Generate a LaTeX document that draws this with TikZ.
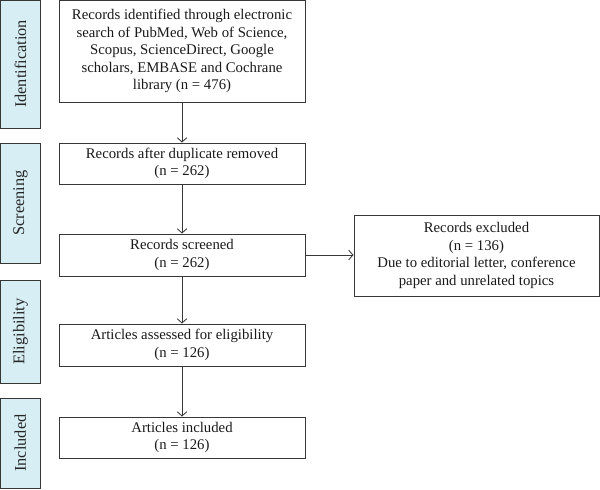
\documentclass[tikz,border=0pt]{standalone}
\usepackage{fontspec}
\setmainfont{Liberation Serif}
\usepackage{tikz}
\usetikzlibrary{arrows.meta}

\definecolor{stagefill}{RGB}{214,238,244}
\definecolor{boxline}{RGB}{55,55,55}

\tikzset{
  stage/.style={draw=boxline,fill=stagefill,line width=0.9pt,inner sep=0pt},
  stagetext/.style={rotate=90,font=\fontsize{15.5}{18}\selectfont,text=black!85},
  record/.style={draw=boxline,line width=0.9pt,align=center,inner sep=0pt,
    font=\fontsize{14}{16.6}\selectfont,text=black!90},
  flow/.style={draw=boxline,line width=0.8pt,-{Straight Barb[length=4pt,width=9pt]}}
}

\begin{document}
\begin{tikzpicture}
\useasboundingbox (0,0) rectangle (20,-16.3);
% stages on the left
\draw[stage] (0.03,0) rectangle (1.333,-4.267);
\draw[stage] (0.03,-4.767) rectangle (1.333,-8.767);
\draw[stage] (0.03,-9.333) rectangle (1.333,-12.767);
\draw[stage] (0.03,-13.267) rectangle (1.333,-16.27);
\node[stagetext] (identification) at (0.68,-2.13) {Identification};
\node[stagetext] (screening) at (0.68,-6.77) {Screening};
\node[stagetext] (eligibility) at (0.68,-11.05) {Eligibility};
\node[stagetext] (included) at (0.68,-14.77) {Included};
% record boxes
\node[record,minimum width=8.2cm,minimum height=3.4cm] (searched) at (6.067,-1.7)
  {Records identified through electronic\\search of PubMed, Web of Science,\\Scopus, ScienceDirect, Google\\scholars, EMBASE and Cochrane\\library (n = 476)};
\node[record,minimum width=8.2cm,minimum height=1.367cm] (deduped) at (6.067,-5.45)
  {Records after duplicate removed\\(n = 262)};
\node[record,minimum width=8.2cm,minimum height=1.4cm] (screened) at (6.067,-8.5)
  {Records screened\\(n = 262)};
\node[record,minimum width=8.2cm,minimum height=1.4cm] (assessed) at (6.067,-11.5)
  {Articles assessed for eligibility\\(n = 126)};
\node[record,minimum width=8.2cm,minimum height=1.367cm] (kept) at (6.067,-14.583)
  {Articles included\\(n = 126)};
\node[record,minimum width=8.167cm,minimum height=2.7cm] (excluded) at (15.883,-8.517)
  {Records excluded\\(n = 136)\\Due to editorial letter, conference\\paper and unrelated topics};
% arrows
\draw[flow] (searched) -- (deduped);
\draw[flow] (deduped) -- (screened);
\draw[flow] (screened) -- (assessed);
\draw[flow] (assessed) -- (kept);
\draw[flow] (screened.east) -- (excluded.west |- screened.east);
\end{tikzpicture}
\end{document}
